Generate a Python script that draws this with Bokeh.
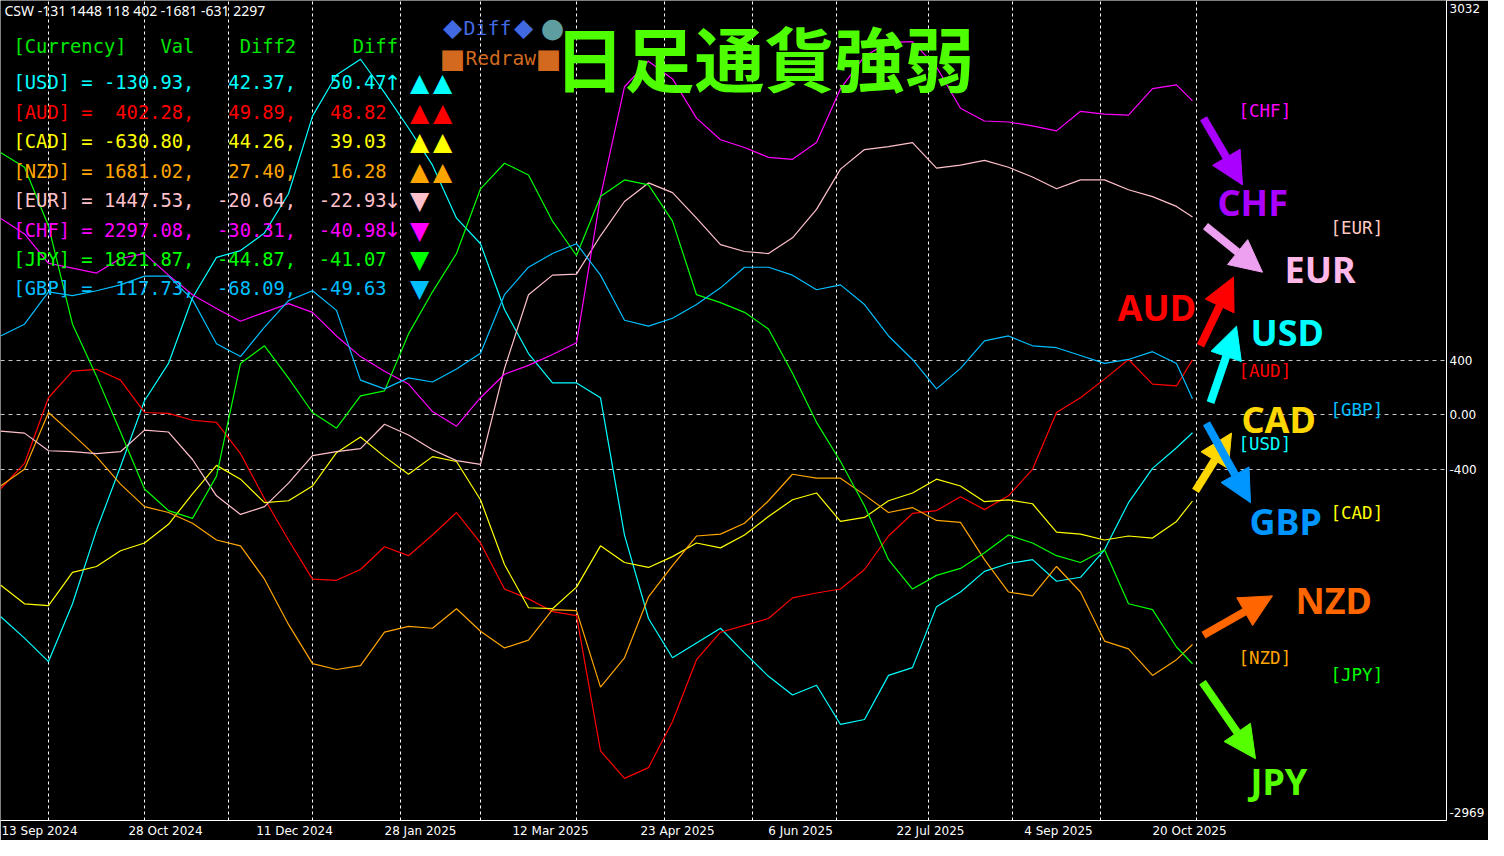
from bokeh.plotting import figure
from bokeh.models import Range1d, FixedTicker, Label, Arrow, NormalHead
from bokeh.embed import file_html
from bokeh.resources import INLINE

# ---------------- data ----------------
# bar index (daily candles) at which the strength values were read
bars = [0, 6, 12, 18, 24, 30, 36, 42, 48, 54, 60, 66, 72, 78, 84, 90, 96, 102, 108, 114,
        120, 126, 132, 138, 144, 150, 156, 162, 168, 174, 180, 186, 192, 198, 204, 210,
        216, 222, 228, 234, 240, 246, 252, 258, 264, 270, 276, 282, 288, 294, 298]

usd = [-1476, -1634, -1806, -1383, -844, -378, 103, 376, 857, 1152, 1202, 1331, 1618, 2186,
       2487, 2602, 2358, 2099, 1827, 1439, 1252, 771, 448, 233, 233, 125, -880, -1491, -1778,
       -1670, -1562, -1742, -1914, -2051, -1979, -2266, -2230, -1907, -1850, -1404, -1297,
       -1146, -1088, -1060, -1218, -1189, -988, -643, -392, -241, -130.93]
aud = [-543, -356, 125, 319, 333, 254, 17, 10, -40, -55, -284, -615, -916, -1203, -1211,
       -1132, -966, -1031, -880, -715, -938, -1275, -1347, -1440, -1469, -2460, -2661, -2582,
       -2244, -1792, -1591, -1541, -1491, -1340, -1304, -1275, -1132, -887, -722, -701, -600,
       -694, -593, -399, 17, 125, 261, 405, 225, 211, 402.28]
cad = [-1246, -1383, -1397, -1153, -1110, -995, -938, -801, -579, -370, -471, -643, -629,
       -521, -277, -162, -306, -435, -306, -342, -622, -1096, -1412, -1419, -1261, -959,
       -1081, -1117, -1038, -938, -974, -880, -744, -622, -572, -780, -751, -629, -572, -471,
       -521, -636, -622, -651, -859, -873, -916, -887, -902, -780, -630.80]
nzd = [-521, -399, 17, -141, -306, -507, -672, -715, -794, -916, -959, -1203, -1534, -1821,
       -1864, -1835, -1591, -1548, -1562, -1419, -1584, -1706, -1649, -1426, -1433, -1993,
       -1778, -1333, -1103, -887, -873, -794, -629, -435, -464, -464, -586, -715, -679, -773,
       -787, -1060, -1297, -1325, -1110, -1297, -1656, -1713, -1907, -1792, -1681.02]
eur = [-119, -134, -263, -270, -284, -270, -112, -126, -327, -593, -729, -672, -500, -299,
       -270, -248, -69, -148, -256, -335, -363, 340, 879, 1022, 1030, 1310, 1561, 1697, 1626,
       1439, 1245, 1195, 1180, 1295, 1503, 1798, 1941, 1963, 1992, 1805, 1827, 1862, 1812,
       1740, 1654, 1719, 1719, 1647, 1597, 1525, 1447.53]
chf = [1439, 1324, 1109, 1073, 1037, 1144, 1180, 1022, 879, 778, 685, 750, 814, 750, 577,
       426, 319, 225, 24, -83, 125, 297, 362, 441, 527, 1597, 2401, 2588, 2458, 2171, 2013,
       1956, 1884, 1870, 1992, 2387, 2624, 2724, 2731, 2545, 2243, 2150, 2143, 2114, 2078,
       2221, 2200, 2193, 2387, 2415, 2297.08]
jpy = [1920, 1812, 1381, 663, 283, -126, -543, -701, -758, -449, 376, 505, 269, 17, -98,
       139, 175, 592, 900, 1180, 1654, 1841, 1755, 1417, 1166, 1597, 1719, 1683, 1417, 879,
       821, 750, 628, 304, -55, -342, -665, -1060, -1275, -1175, -1124, -1010, -880, -938,
       -1031, -1081, -988, -1383, -1426, -1699, -1821.87]
gbp = [577, 663, 900, 872, 908, 951, 1015, 1015, 843, 520, 426, 642, 836, 908, 764, 254,
       190, 270, 240, 335, 450, 879, 1080, 1180, 1252, 1022, 692, 649, 707, 807, 929, 1080,
       1080, 1022, 915, 951, 807, 577, 405, 190, 340, 541, 577, 505, 491, 434, 376, 405, 462,
       376, 117.73]

currencies = ["USD", "AUD", "CAD", "NZD", "EUR", "CHF", "JPY", "GBP"]
series = [usd, aud, cad, nzd, eur, chf, jpy, gbp]
line_colors = ["#00ffff", "#ff0000", "#ffff00", "#ffa500", "#ffc0cb", "#ff00ff", "#00ff00", "#00bfff"]

# table values as displayed
table_val = ["-130.93", "402.28", "-630.80", "1681.02", "1447.53", "2297.08", "1821.87", "117.73"]
table_diff2 = ["42.37", "49.89", "44.26", "27.40", "-20.64", "-30.31", "-44.87", "-68.09"]
table_diff = ["50.47", "48.82", "39.03", "16.28", "-22.93", "-40.98", "-41.07", "-49.63"]
table_arrow = ["\u2191", "", "", "", "\u2193", "\u2193", "", ""]
table_marks = ["\u25b2\u25b2", "\u25b2\u25b2", "\u25b2\u25b2", "\u25b2\u25b2", "\u25bc", "\u25bc", "\u25bc", "\u25bc"]

csw_text = "CSW -131 1448 118 402 -1681 -631 2297"

date_tick_bars = [0, 32, 64, 96, 128, 160, 192, 224, 256, 288]
date_tick_labels = ["13 Sep 2024", "28 Oct 2024", "11 Dec 2024", "28 Jan 2025", "12 Mar 2025",
                    "23 Apr 2025", "6 Jun 2025", "22 Jul 2025", "4 Sep 2025", "20 Oct 2025"]
month_start_bars = [12, 36, 57, 78, 100, 120, 144, 166, 188, 209, 232, 253, 275, 299]

y_top, y_bottom = 3032, -2969

# ---------------- figure ----------------
p = figure(width=1488, height=840, x_range=Range1d(0, 361.5), y_range=Range1d(y_bottom, y_top),
           output_backend="svg", toolbar_location=None, y_axis_location="right",
           background_fill_color="black", border_fill_color="black", outline_line_color=None,
           min_border_left=0, min_border_top=0, min_border_right=42, min_border_bottom=18)

# the terminal writes each date to the right of its bar: shift the (centred) label
# by half its rendered width (layout offsets, in bars)
label_half_width = [9.75, 9.25, 9.5, 9.0, 9.5, 9.25, 8.0, 8.5, 8.5, 9.25]
x_label_pos = [b + w for b, w in zip(date_tick_bars, label_half_width)]

xa = p.xaxis[0]
xa.ticker = FixedTicker(ticks=x_label_pos)
xa.major_label_overrides = {pos: t for pos, t in zip(x_label_pos, date_tick_labels)}
ya = p.yaxis[0]
# edge labels drawn just inside the frame like the terminal does
edge_top = y_top - 57
edge_bot = y_bottom + 57
ya.ticker = FixedTicker(ticks=[edge_top, 400, 0, -400, edge_bot])
ya.major_label_overrides = {edge_top: str(y_top), 400: "400", 0: "0.00", -400: "-400",
                            edge_bot: str(y_bottom)}
for ax in (xa, ya):
    ax.axis_line_color = "white"
    ax.major_tick_line_color = None
    ax.minor_tick_line_color = None
    ax.major_tick_out = 0
    ax.major_tick_in = 0
    ax.minor_tick_out = 0
    ax.major_label_text_color = "white"
    ax.major_label_text_font = "DejaVu Sans"
    ax.major_label_text_font_size = "12px"
    ax.major_label_standoff = 3

p.xgrid.ticker = FixedTicker(ticks=month_start_bars)
p.xgrid.grid_line_color = "white"
p.xgrid.grid_line_dash = "3 3"
p.ygrid.ticker = FixedTicker(ticks=[-400, 0, 400])
p.ygrid.grid_line_color = "#c8c8c8"
p.ygrid.grid_line_dash = "4 4"

for vals, col in zip(series, line_colors):
    p.line(bars, vals, line_color=col, line_width=1.2)

# ---------------- overlays (placed in pixel layout of the frame) ----------------
NB = "\u00a0"
MONO = "DejaVu Sans Mono"

def X(px):
    return px / 4.0

def Y(py):
    return y_top - py * (y_top - y_bottom) / 836.0

def lab(px, py, text, color, size, font=MONO, style="normal", align="left"):
    p.add_layout(Label(x=X(px), y=Y(py), text=text.replace(" ", NB), text_color=color,
                       text_font=font, text_font_size=f"{size}px", text_font_style=style,
                       text_align=align, text_baseline="middle"))

lab(4, 10, csw_text, "white", 14, font="Noto Sans")
lab(13, 47, "[Currency]   Val    Diff2     Diff", "#00e600", 18.8)
for i, c in enumerate(currencies):
    row = f"[{c}] = {table_val[i]:>7},  {table_diff2[i]:>6},  {table_diff[i]:>6}"
    cy = 84 + 30 * i
    lab(13, cy, row, line_colors[i], 18.8)
    if table_arrow[i]:
        lab(392, cy, table_arrow[i], line_colors[i], 21, font="DejaVu Sans", align="center")
    for k, ch in enumerate(table_marks[i]):
        lab(419 + 23 * k, cy, ch, line_colors[i], 25, font="DejaVu Sans", align="center")

lab(452, 28, "\u25c6", "#4169e1", 25, font="DejaVu Sans", align="center")
lab(463, 28, "Diff", "#4169e1", 20)
lab(523, 28, "\u25c6", "#4169e1", 25, font="DejaVu Sans", align="center")
lab(552, 28, "\u25cf", "#5f9ea0", 27, font="DejaVu Sans", align="center")
lab(452, 59, "\u25a0", "#d2691e", 27, font="DejaVu Sans", align="center")
lab(465, 59, "Redraw", "#d2691e", 19.5)
lab(548, 59, "\u25a0", "#d2691e", 27, font="DejaVu Sans", align="center")

lab(554, 57, "日足通貨強弱", "#4dff00", 70, font="Noto Sans CJK JP", style="bold")

# arrows: tail -> tip, colour
arrows = [((1203, 120), (1242, 188), "#aa00ff"),
          ((1205, 230), (1262, 277), "#eea0f0"),
          ((1200, 352), (1233, 282), "#ff0000"),
          ((1210, 410), (1236, 332), "#00ffff"),
          ((1195, 500), (1231, 441), "#ffd700"),
          ((1206, 431), (1250, 512), "#0096ff"),
          ((1203, 647), (1272, 607), "#ff6600"),
          ((1202, 695), (1255, 773), "#55ff00")]
for (x0, y0), (x1, y1), col in arrows:
    p.add_layout(Arrow(x_start=X(x0), y_start=Y(y0), x_end=X(x1), y_end=Y(y1),
                       line_color=col, line_width=8,
                       end=NormalHead(size=32, fill_color=col, line_color=col, line_width=1)))

big = [("CHF", 1217, 206, "#aa00ff"), ("EUR", 1284, 274, "#ffb8e8"), ("AUD", 1117, 313, "#ff0000"),
       ("USD", 1250, 338, "#00ffff"), ("CAD", 1241, 427, "#ffd700"), ("GBP", 1249, 531, "#0096ff"),
       ("NZD", 1295, 612, "#ff6600"), ("JPY", 1250, 796, "#55ff00")]
for t, bx, by, col in big:
    lab(bx, by, t, col, 36, font="Noto Sans", style="bold")

tags = [("[CHF]", 1238, 113, "#ff00ff"), ("[EUR]", 1330, 232, "#ffc8c0"), ("[AUD]", 1238, 378, "#ff0000"),
        ("[GBP]", 1330, 417, "#00bfff"), ("[USD]", 1238, 452, "#00ffff"), ("[CAD]", 1330, 522, "#ffff00"),
        ("[NZD]", 1238, 670, "#ffa500"), ("[JPY]", 1330, 688, "#00ff00")]
for t, bx, by, col in tags:
    lab(bx, by, t, col, 17.5)

open("out.html", "w").write(file_html(p, INLINE))
